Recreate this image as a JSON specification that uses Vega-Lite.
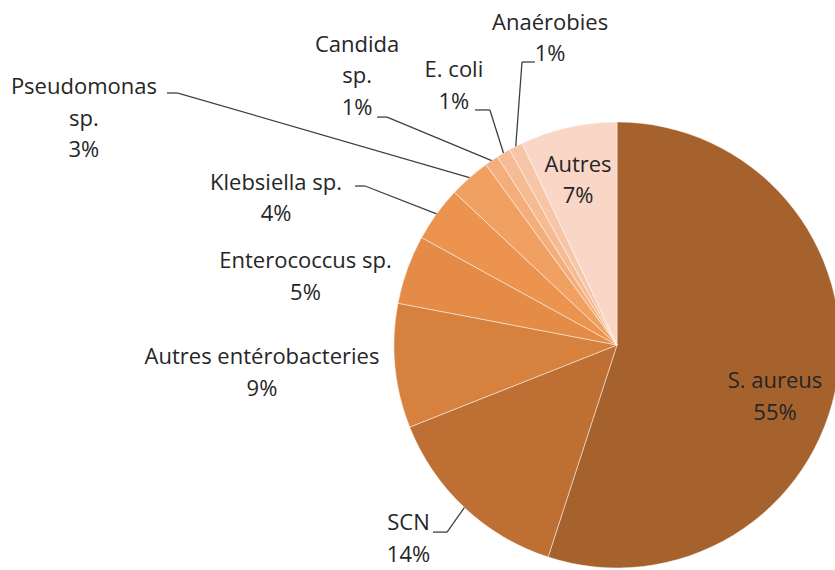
{
  "$schema": "https://vega.github.io/schema/vega-lite/v6.json",
  "width": 446,
  "height": 446,
  "autosize": {"type": "none"},
  "padding": {"left": 394, "top": 122, "right": 0, "bottom": 0},
  "background": "white",
  "config": {"view": {"stroke": null}},
  "data": {
    "values": [
      {"name": "S. aureus", "pct": 55},
      {"name": "SCN", "pct": 14},
      {"name": "Autres entérobacteries", "pct": 9},
      {"name": "Enterococcus sp.", "pct": 5},
      {"name": "Klebsiella sp.", "pct": 4},
      {"name": "Pseudomonas sp.", "pct": 3},
      {"name": "Candida sp.", "pct": 1},
      {"name": "E. coli", "pct": 1},
      {"name": "Anaérobies", "pct": 1},
      {"name": "Autres", "pct": 7}
    ]
  },
  "transform": [
    {"window": [{"op": "row_number", "as": "idx"}]},
    {"stack": "pct", "groupby": [], "sort": [{"field": "idx", "order": "ascending"}], "as": ["v0", "v1"]},
    {"calculate": "(datum.v0 + datum.v1) / 2", "as": "mid"},
    {"calculate": "sin(datum.mid * PI / 50)", "as": "ex"},
    {"calculate": "cos(datum.mid * PI / 50)", "as": "ey"}
  ],
  "layer": [
    {
      "mark": {"type": "arc", "stroke": "#ffffff", "strokeWidth": 0.8, "strokeOpacity": 0.6},
      "encoding": {
        "theta": {"field": "v0", "type": "quantitative", "stack": null, "scale": {"domain": [0, 100]}},
        "theta2": {"field": "v1"},
        "color": {
          "field": "name",
          "type": "nominal",
          "legend": null,
          "scale": {
            "domain": ["S. aureus", "SCN", "Autres entérobacteries", "Enterococcus sp.", "Klebsiella sp.", "Pseudomonas sp.", "Candida sp.", "E. coli", "Anaérobies", "Autres"],
            "range": ["#A5622D", "#BE6F34", "#D6813E", "#E38B47", "#EC944F", "#F0A060", "#F3AE7C", "#F5BB93", "#F7C6A8", "#F9D6C6"]
          }
        }
      }
    },
    {
      "transform": [
        {"calculate": "[null, -0.762, null, null, -1.130, -1.969, -1.031, -0.570, -0.426, null][datum.idx - 1]", "as": "lx1"},
        {"calculate": "[null, -0.839, null, null, 0.713, 1.130, 1.022, 1.054, 1.269, null][datum.idx - 1]", "as": "ly1"},
        {"filter": "datum.lx1 != null"}
      ],
      "mark": {"type": "rule", "color": "#404040", "strokeWidth": 1.3},
      "encoding": {
        "x": {"field": "ex", "type": "quantitative", "axis": null, "scale": {"domain": [-1, 1], "nice": false, "zero": false}},
        "y": {"field": "ey", "type": "quantitative", "axis": null, "scale": {"domain": [-1, 1], "nice": false, "zero": false}},
        "x2": {"field": "lx1"},
        "y2": {"field": "ly1"}
      }
    },
    {
      "transform": [
        {"calculate": "[null, -0.762, null, null, -1.130, -1.969, -1.031, -0.570, -0.426, null][datum.idx - 1]", "as": "lx1"},
        {"calculate": "[null, -0.839, null, null, 0.713, 1.130, 1.022, 1.054, 1.269, null][datum.idx - 1]", "as": "ly1"},
        {"calculate": "[null, -0.825, null, null, -1.175, -2.018, -1.076, -0.637, -0.368, null][datum.idx - 1]", "as": "lx2"},
        {"filter": "datum.lx1 != null"}
      ],
      "mark": {"type": "rule", "color": "#404040", "strokeWidth": 1.3},
      "encoding": {
        "x": {"field": "lx1", "type": "quantitative", "axis": null},
        "y": {"field": "ly1", "type": "quantitative", "axis": null},
        "x2": {"field": "lx2"},
        "y2": {"field": "ly1"}
      }
    },
    {
      "transform": [
        {"calculate": "datum.mid + [1.07, 1.75, 0.96, -1.31, -2.94, -6.33, -1.86, -0.02, 4.24, 0.11][datum.idx - 1]", "as": "lt"},
        {"calculate": "[0.7267, 1.2294, 1.5929, 1.4468, 1.6930, 2.6555, 1.7803, 1.4336, 1.4749, 0.8260][datum.idx - 1]", "as": "lr"},
        {"calculate": "(datum.idx == 6 || datum.idx == 7 ? replace(datum.name, ' ', '\\n') : datum.name) + '\\n' + datum.pct + '%'", "as": "label"}
      ],
      "mark": {"type": "text", "font": "Open Sans", "fontSize": 22, "lineHeight": 31.5, "lineBreak": "\n", "align": "center", "baseline": "middle", "fill": "#262626"},
      "encoding": {
        "theta": {"field": "lt", "type": "quantitative", "stack": null},
        "radius": {"field": "lr", "type": "quantitative", "scale": {"type": "linear", "domain": [0, 1], "range": [0, 223], "zero": true}},
        "text": {"field": "label", "type": "nominal"}
      }
    }
  ]
}
